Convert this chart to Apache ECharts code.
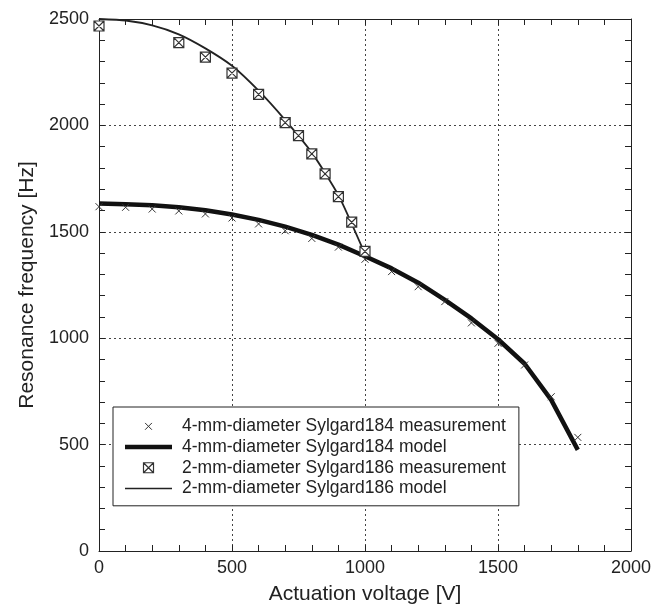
<!DOCTYPE html>
<html>
<head>
<meta charset="utf-8">
<script src="https://cdn.jsdelivr.net/npm/echarts@6/dist/echarts.min.js"></script>
<style>html,body{margin:0;padding:0;background:#fff;}#c{width:654px;height:605px;}</style>
</head>
<body>
<div id="c"></div>
<script>
// ---- data ----
const v184Meas = [0,100,200,300,400,500,600,700,800,900,1000,1100,1200,1300,1400,1500,1600,1700,1800];
const f184Meas = [1618,1615,1607,1598,1584,1565,1537,1505,1469,1428,1371,1313,1242,1172,1072,976,874,725,534];
const v184Model = [0,100,200,300,400,500,600,700,800,900,1000,1100,1200,1300,1400,1500,1600,1700,1800];
const f184Model = [1633,1630,1625,1615,1601,1581,1556,1524,1486,1440,1385,1328,1261,1180,1093,995,880,710,475];
const v186Meas = [0,300,400,500,600,700,750,800,850,900,950,1000];
const f186Meas = [2467,2389,2321,2246,2146,2013,1952,1866,1772,1665,1545,1408];
const v186Model = [0,100,200,300,400,500,600,700,800,900,1000];
const f186Model = [2500,2493,2470,2428,2362,2280,2163,2025,1872,1672,1395];
const xTicks = [0,500,1000,1500,2000];
const yTicks = [0,500,1000,1500,2000,2500];
const names = [
  '4-mm-diameter Sylgard184 measurement',
  '4-mm-diameter Sylgard184 model',
  '2-mm-diameter Sylgard186 measurement',
  '2-mm-diameter Sylgard186 model'
];

const pairs = (xs, ys) => xs.map((x, i) => [x, ys[i]]);
const FONT = '"Liberation Sans", Arial, Helvetica, sans-serif';
const INK = '#222';
const crossPath = 'path://M0,0L10,10M10,0L0,10';
const crossLegendPath = 'path://M0,0L0,0M1.6,1.6L8.4,8.4M8.4,1.6L1.6,8.4M10,10L10,10';
const boxPath = 'path://M0,0L10,0L10,10L0,10ZM0,0L10,10M10,0L0,10';
const tickStyle = { color: '#222', width: 1 };

function axisCommon(extra) {
  return Object.assign({
    type: 'value',
    axisLine: { show: true, onZero: false, lineStyle: { color: INK, width: 1 } },
    axisTick: { show: true, inside: true, length: 6, lineStyle: tickStyle },
    minorTick: { show: true, splitNumber: 5, length: 6, lineStyle: tickStyle },
    splitLine: { show: false },
    axisLabel: { show: false }
  }, extra);
}

const chart = echarts.init(document.getElementById('c'));
chart.setOption({
  backgroundColor: '#fff',
  animation: false,
  textStyle: { fontFamily: FONT, color: INK },
  grid: { left: 99, right: 23, top: 19, bottom: 54, containLabel: false, outerBoundsMode: 'none' },
  xAxis: [
    {
      type: 'value', min: xTicks[0], max: xTicks[xTicks.length - 1], interval: 500, position: 'bottom',
      axisLine: { show: true, onZero: false, lineStyle: { color: INK } },
      axisTick: { show: true, inside: true, length: 6, lineStyle: { color: '#222', width: 1 } },
      minorTick: { show: true, splitNumber: 5, length: 6, lineStyle: { color: '#222', width: 1 } },
      name: 'Actuation voltage [V]', nameLocation: 'middle', nameGap: 33,
      nameTextStyle: { fontSize: 21, color: INK, fontFamily: FONT },
      axisLabel: { fontSize: 18, color: INK, margin: 8, fontFamily: FONT, formatter: v => String(v) },
      splitLine: { show: true, lineStyle: { color: '#444', type: [2, 3], width: 1 } }
    },
    {
      type: 'value', min: xTicks[0], max: xTicks[xTicks.length - 1], interval: 500, position: 'top',
      axisLine: { show: true, onZero: false, lineStyle: { color: INK } },
      axisTick: { show: true, inside: true, length: 6, lineStyle: { color: '#222', width: 1 } },
      minorTick: { show: true, splitNumber: 5, length: 6, lineStyle: { color: '#222', width: 1 } },
      axisLabel: { show: false },
      splitLine: { show: false }
    }
  ],
  yAxis: [
    axisCommon({
      min: yTicks[0], max: yTicks[yTicks.length - 1], interval: 500, position: 'left',
      name: 'Resonance frequency [Hz]', nameLocation: 'middle', nameGap: 52,
      nameTextStyle: { fontSize: 21, color: INK, fontFamily: FONT },
      axisLabel: { show: true, fontSize: 18, color: INK, margin: 10, fontFamily: FONT, formatter: v => String(v) },
      splitLine: { show: true, lineStyle: { color: '#444', type: [2, 3], width: 1 } }
    }),
    axisCommon({ min: yTicks[0], max: yTicks[yTicks.length - 1], interval: 500, position: 'right' })
  ],
  legend: {
    orient: 'vertical',
    left: 113, top: 407,
    padding: [9, 13, 7, 12],
    itemWidth: 47, itemHeight: 10, itemGap: 0,
    backgroundColor: '#fff',
    borderColor: INK, borderWidth: 1, borderRadius: 0,
    selectedMode: false,
    textStyle: { fontSize: 17.5, lineHeight: 20.7, color: INK, fontFamily: FONT, padding: [0, 0, 0, 5] },
    data: [
      { name: names[0], icon: crossLegendPath, itemStyle: { color: 'rgba(0,0,0,0)', borderColor: '#333', borderWidth: 1 } },
      { name: names[1], icon: 'path://M0,0L47,0L47,4.5L0,4.5Z', itemStyle: { color: '#111', borderWidth: 0 } },
      { name: names[2], icon: boxPath, itemStyle: { color: '#fff', borderColor: '#333', borderWidth: 1.2 } },
      { name: names[3], icon: 'path://M0,0L47,0L47,1.6L0,1.6Z', itemStyle: { color: '#222', borderWidth: 0 } }
    ]
  },
  series: [
    {
      name: names[1], type: 'line', data: pairs(v184Model, f184Model),
      showSymbol: false, symbol: 'none', z: 2,
      lineStyle: { color: '#111', width: 4.5, join: 'round' }, itemStyle: { color: '#111' }
    },
    {
      name: names[3], type: 'line', data: pairs(v186Model, f186Model),
      showSymbol: false, symbol: 'none', smooth: 0.2, z: 2,
      lineStyle: { color: '#222', width: 1.8 }, itemStyle: { color: '#222' }
    },
    {
      name: names[0], type: 'scatter', data: pairs(v184Meas, f184Meas),
      symbol: crossPath, symbolSize: 7, z: 3,
      itemStyle: { color: 'rgba(0,0,0,0)', borderColor: '#333', borderWidth: 1, opacity: 1 }
    },
    {
      name: names[2], type: 'scatter', data: pairs(v186Meas, f186Meas),
      symbol: boxPath, symbolSize: 10, z: 4,
      itemStyle: { color: '#fff', borderColor: '#333', borderWidth: 1.2, opacity: 1 }
    }
  ]
});
</script>
</body>
</html>
